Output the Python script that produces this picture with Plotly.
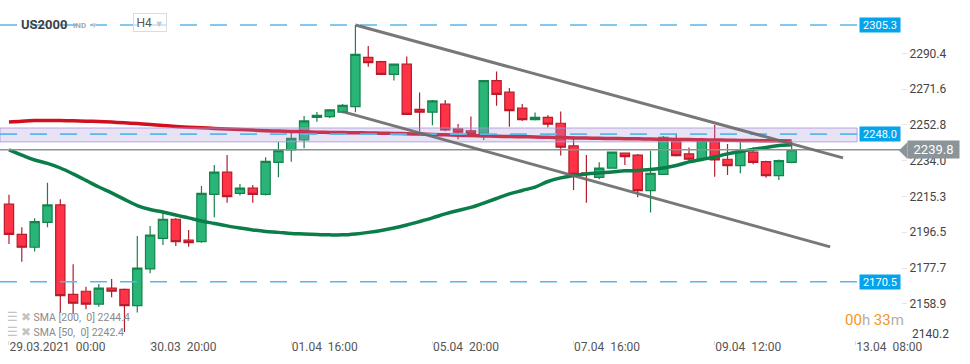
import plotly.graph_objects as go

# ---------------- data ----------------
bar_index = list(range(62))
opens = [2211.2, 2195.4, 2188.6, 2201.7, 2210.8, 2163.9, 2165.5, 2158.7, 2167.2, 2166.5,
         2157.9, 2177.2, 2193.3, 2203.3, 2192.4, 2191.5, 2216.4, 2228.0, 2216.9, 2219.6,
         2216.4, 2233.2, 2239.7, 2244.9, 2256.8, 2257.2, 2259.5, 2262.4, 2288.3, 2286.0,
         2279.4, 2284.7, 2261.0, 2259.5, 2263.7, 2250.7, 2249.7, 2248.4, 2276.1, 2270.0,
         2261.6, 2255.6, 2256.8, 2253.7, 2241.8, 2227.6, 2225.3, 2230.1, 2238.0, 2237.0,
         2218.3, 2226.9, 2244.6, 2237.6, 2234.8, 2244.0, 2234.8, 2231.4, 2238.5, 2233.5,
         2226.2, 2233.2]
highs = [2216.1, 2199.1, 2203.8, 2222.5, 2213.8, 2179.7, 2167.9, 2169.3, 2171.9, 2167.0,
         2194.5, 2199.8, 2206.8, 2204.0, 2197.7, 2220.8, 2231.8, 2237.0, 2221.8, 2221.3,
         2235.8, 2244.0, 2249.3, 2257.5, 2259.6, 2261.2, 2263.8, 2305.3, 2294.3, 2286.5,
         2285.0, 2288.7, 2269.8, 2265.9, 2265.9, 2253.3, 2257.2, 2276.3, 2280.8, 2272.2,
         2263.8, 2259.3, 2258.0, 2259.8, 2247.0, 2237.0, 2233.2, 2238.8, 2238.4, 2237.6,
         2239.3, 2247.0, 2248.4, 2240.9, 2245.5, 2252.8, 2242.8, 2243.7, 2241.1, 2234.0,
         2234.6, 2244.0]
lows = [2190.3, 2181.0, 2186.3, 2199.1, 2154.1, 2153.6, 2156.0, 2157.4, 2162.3, 2144.1,
        2154.3, 2174.9, 2189.8, 2189.3, 2188.9, 2191.0, 2204.3, 2212.0, 2215.7, 2212.0,
        2215.7, 2225.3, 2233.5, 2240.6, 2254.5, 2256.5, 2259.0, 2259.5, 2283.4, 2279.0,
        2276.1, 2258.0, 2249.3, 2252.6, 2249.5, 2245.3, 2246.7, 2244.9, 2262.9, 2251.9,
        2254.9, 2255.2, 2251.4, 2236.7, 2218.7, 2212.0, 2224.3, 2229.8, 2231.8, 2214.8,
        2206.8, 2226.5, 2236.3, 2233.2, 2234.3, 2225.6, 2226.5, 2227.4, 2232.2, 2225.1,
        2223.9, 2232.7]
closes = [2195.4, 2188.6, 2202.0, 2210.8, 2163.2, 2159.2, 2158.7, 2167.1, 2165.5, 2157.9,
          2177.6, 2195.0, 2203.3, 2191.5, 2191.0, 2216.9, 2228.0, 2215.2, 2219.6, 2216.4,
          2233.7, 2239.3, 2245.8, 2254.9, 2257.9, 2260.7, 2263.1, 2289.9, 2285.5, 2279.4,
          2284.7, 2258.4, 2259.5, 2265.4, 2250.2, 2249.0, 2248.1, 2276.1, 2268.9, 2260.3,
          2255.6, 2256.8, 2253.2, 2241.1, 2226.9, 2226.9, 2230.1, 2238.5, 2236.2, 2218.3,
          2227.4, 2246.3, 2236.7, 2234.8, 2244.6, 2234.4, 2231.4, 2239.1, 2233.2, 2226.2,
          2234.1, 2239.8]

sma200 = [2254.4, 2254.8, 2255.1, 2255.2, 2255.1, 2255.0, 2254.8, 2254.6, 2254.3, 2253.9,
          2253.5, 2253.0, 2252.5, 2252.0, 2251.6, 2251.3, 2251.0, 2250.7, 2250.4, 2250.1,
          2249.8, 2249.6, 2249.4, 2249.2, 2249.0, 2248.9, 2248.8, 2248.7, 2248.6, 2248.5,
          2248.3, 2248.2, 2248.0, 2247.8, 2247.6, 2247.4, 2247.2, 2247.0, 2246.9, 2246.7,
          2246.6, 2246.5, 2246.3, 2246.2, 2246.0, 2245.9, 2245.8, 2245.7, 2245.6, 2245.5,
          2245.4, 2245.3, 2245.2, 2245.1, 2245.0, 2244.9, 2244.8, 2244.7, 2244.6, 2244.5,
          2244.5, 2244.4]
sma50 = [2239.7, 2237.0, 2234.4, 2232.6, 2230.2, 2227.1, 2223.7, 2220.2, 2217.1, 2213.7,
         2210.5, 2208.4, 2207.1, 2205.5, 2204.0, 2202.4, 2201.1, 2199.8, 2198.7, 2197.7,
         2196.9, 2196.4, 2195.8, 2195.6, 2195.3, 2195.1, 2195.1, 2195.6, 2196.4, 2197.4,
         2198.7, 2200.3, 2202.1, 2204.0, 2206.1, 2207.9, 2209.5, 2211.8, 2214.2, 2216.6,
         2218.4, 2220.2, 2223.1, 2225.0, 2226.3, 2227.1, 2227.6, 2228.1, 2228.7, 2228.9,
         2229.4, 2230.2, 2231.5, 2233.4, 2234.7, 2236.0, 2237.6, 2238.9, 2240.0, 2241.0,
         2242.0, 2242.4]

x_tick_index = [0, 11, 22, 33, 44, 55, 66]
x_tick_text = ["29.03.2021  00:00", "30.03  20:00", "01.04  16:00", "05.04  20:00",
               "07.04  16:00", "09.04  12:00", "13.04  08:00"]
y_ticks = [2158.9, 2177.7, 2196.5, 2215.3, 2234.0, 2252.8, 2271.6, 2290.4]
y_bottom_tick = 2140.2

level_high = 2305.3
level_low = 2170.5
level_mid = 2248.0
zone_top = 2251.2
zone_bottom = 2243.9
last_price = 2239.8

channel_upper = {"x": [27.0, 65.0], "y": [2305.3, 2235.5]}
channel_lower = {"x": [26.0, 64.0], "y": [2259.8, 2188.8]}

# ---------------- geometry helpers (pixels -> paper) ----------------
W, H = 970, 364
ML, MR, MT, MB = 0, 69, 0, 24
PW, PH = W - ML - MR, H - MT - MB


def px(x):
    return (x - ML) / PW


def py(y):
    return (PH - (y - MT)) / PH


X_RANGE = [-0.70, 69.52]
Y_RANGE = [2139.9, 2318.4]
line_end_x = 66.1  # where horizontal levels stop (just before price boxes)

fig = go.Figure()

fig.add_trace(go.Candlestick(
    x=bar_index, open=opens, high=highs, low=lows, close=closes,
    increasing=dict(line=dict(color="#17824c", width=1.2), fillcolor="#28b577"),
    decreasing=dict(line=dict(color="#b51c2c", width=1.2), fillcolor="#ff3246"),
    whiskerwidth=0, showlegend=False, hoverinfo="skip",
))

fig.add_trace(go.Scatter(x=bar_index, y=sma200, mode="lines",
                         line=dict(color="#d0101f", width=3.5, shape="spline"),
                         showlegend=False, hoverinfo="skip"))
fig.add_trace(go.Scatter(x=bar_index, y=sma50, mode="lines",
                         line=dict(color="#0b7d48", width=3.5, shape="spline"),
                         showlegend=False, hoverinfo="skip"))

shapes = []
# purple zone
shapes.append(dict(type="rect", xref="x", yref="y", x0=X_RANGE[0], x1=line_end_x,
                   y0=zone_bottom, y1=zone_top, fillcolor="rgba(170,150,215,0.28)",
                   line=dict(color="rgba(170,150,215,0.8)", width=1), layer="above"))
# dashed levels
for lv in (level_high, level_mid, level_low):
    shapes.append(dict(type="line", xref="x", yref="y", x0=X_RANGE[0], x1=line_end_x,
                       y0=lv, y1=lv, line=dict(color="#5cb6ec", width=1.6, dash="17px,13px"),
                       layer="above"))
# last price line
shapes.append(dict(type="line", xref="x", yref="y", x0=X_RANGE[0], x1=X_RANGE[1],
                   y0=last_price, y1=last_price, line=dict(color="#8b9398", width=1.5),
                   layer="above"))
# channel
for ch in (channel_upper, channel_lower):
    shapes.append(dict(type="line", xref="x", yref="y", x0=ch["x"][0], x1=ch["x"][1],
                       y0=ch["y"][0], y1=ch["y"][1],
                       line=dict(color="rgba(105,105,105,0.9)", width=3), layer="above"))
# last price tag arrow
yc = 150.5
shapes.append(dict(type="path", xref="paper", yref="paper",
                   path=f"M {px(899)} {py(yc)} L {px(907.5)} {py(yc-8.5)} L {px(907.5)} {py(yc+8.5)} Z",
                   fillcolor="#8b9499", line=dict(width=0), layer="above"))
fig.update_layout(shapes=shapes)

ann = []
BLUE = "#03a4ec"
for lv in (level_high, level_mid, level_low):
    ann.append(dict(xref="paper", yref="y", x=px(859), y=lv, xanchor="left", yanchor="middle",
                    text=f"{lv:.1f}", showarrow=False, bgcolor=BLUE, width=38, height=12,
                    borderpad=1, font=dict(family="Roboto", size=11, color="white")))
ann.append(dict(xref="paper", yref="y", x=px(907), y=last_price, xanchor="left", yanchor="middle",
                text=f"{last_price:.1f}", showarrow=False, bgcolor="#8b9499", width=49, height=15,
                borderpad=1, font=dict(family="Roboto", size=13, color="white")))
ann.append(dict(xref="paper", yref="paper", x=px(910), y=py(334), xanchor="left", yanchor="middle",
                text=f"{y_bottom_tick:.1f}", showarrow=False,
                font=dict(family="Roboto", size=12, color="#444")))
ann.append(dict(xref="paper", yref="paper", x=px(843), y=py(319.5), xanchor="left", yanchor="middle",
                text="<span style='color:#f7941d'>00</span>h <span style='color:#f7941d'>33</span>m",
                showarrow=False, font=dict(family="Roboto", size=15, color="#b0b0b0")))
# legend text
ann.append(dict(xref="paper", yref="paper", x=px(5), y=py(316.5), xanchor="left", yanchor="middle",
                text="<span style='color:#c4c4c4;font-size:12px'>☰ ✖</span> SMA [200,  0] 2244.4",
                showarrow=False, font=dict(family="Roboto", size=10.5, color="#8a8a8a")))
ann.append(dict(xref="paper", yref="paper", x=px(5), y=py(331.5), xanchor="left", yanchor="middle",
                text="<span style='color:#c4c4c4;font-size:12px'>☰ ✖</span> SMA [50,  0] 2242.4",
                showarrow=False, font=dict(family="Roboto", size=10.5, color="#8a8a8a")))
# header
ann.append(dict(xref="paper", yref="paper", x=px(19), y=py(24.5), xanchor="left", yanchor="middle",
                text="<b>US2000</b>", showarrow=False,
                font=dict(family="Roboto", size=13, color="#3b4046")))
ann.append(dict(xref="paper", yref="paper", x=px(71), y=py(25.5), xanchor="left", yanchor="middle",
                text="<b>IND</b>  <span style='color:#c8c8c8'>▼</span>", showarrow=False,
                font=dict(family="Roboto", size=8, color="#a4aab0")))
ann.append(dict(xref="paper", yref="paper", x=px(133), y=py(23), xanchor="left", yanchor="middle",
                text="H4 <span style='color:#c8c8c8;font-size:9px'>▼</span>", showarrow=False,
                bordercolor="#dcdcdc", borderwidth=1, borderpad=2, width=28, height=13,
                bgcolor="rgba(255,255,255,0.6)",
                font=dict(family="Roboto", size=12, color="#555")))
fig.update_layout(annotations=ann)

fig.update_layout(
    width=W, height=H, autosize=False,
    margin=dict(l=ML, r=MR, t=MT, b=MB, pad=0),
    paper_bgcolor="white", plot_bgcolor="white",
    boxgap=0.15, boxgroupgap=0.15,
    xaxis=dict(range=X_RANGE, showgrid=False, zeroline=False, showline=False,
               rangeslider=dict(visible=False), tickmode="array",
               tickvals=x_tick_index, ticktext=x_tick_text, ticks="outside", ticklen=4,
               tickcolor="#dddddd", ticklabelposition="outside right", ticklabelstandoff=-4,
               tickfont=dict(family="Roboto", size=12, color="#555")),
    yaxis=dict(range=Y_RANGE, side="right", showgrid=False, zeroline=False, showline=False,
               tickmode="array", tickvals=y_ticks, ticktext=[f"{v:.1f}" for v in y_ticks],
               ticks="outside", ticklen=5, tickcolor="#e4e4e4",
               tickfont=dict(family="Roboto", size=12, color="#444")),
    hovermode=False,
)

fig.write_html("out.html", config={"displayModeBar": False},
               post_script="document.body.style.margin='0';document.body.style.overflow='hidden';")
